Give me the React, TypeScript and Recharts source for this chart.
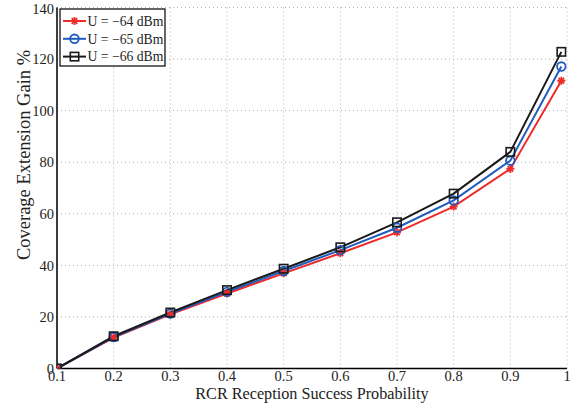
import React from 'react';
import { LineChart, Line, XAxis, YAxis, CartesianGrid } from 'recharts';

const xValues = [0.1, 0.2, 0.3, 0.4, 0.5, 0.6, 0.7, 0.8, 0.9, 0.99];
const u64 = [0, 12.0, 21.0, 29.1, 36.9, 44.7, 52.8, 62.8, 77.4, 111.6];
const u65 = [0, 12.2, 21.3, 29.7, 37.8, 45.9, 54.6, 65.2, 80.6, 117.1];
const u66 = [0, 12.5, 21.7, 30.4, 38.7, 47.0, 56.7, 67.8, 84.0, 122.8];
const xTicks = [0.1, 0.2, 0.3, 0.4, 0.5, 0.6, 0.7, 0.8, 0.9, 1];
const yTicks = [0, 20, 40, 60, 80, 100, 120, 140];
const seriesNames = ['U = \u221264 dBm', 'U = \u221265 dBm', 'U = \u221266 dBm'];

const data = xValues.map((x, i) => ({ x, a: u64[i], b: u65[i], c: u66[i] }));

const RED = '#ee2b2b';
const BLUE = '#1f5cbf';
const BLACK = '#1a1a1a';
const FONT = "'Liberation Serif', 'Times New Roman', Times, serif";

const Star = (props: any) => {
  const { cx, cy } = props;
  if (cx == null || cy == null) return null;
  const r = 4;
  return (
    <g stroke={RED} strokeWidth={1.8}>
      <line x1={cx - r} y1={cy} x2={cx + r} y2={cy} />
      <line x1={cx} y1={cy - r} x2={cx} y2={cy + r} />
      <line x1={cx - r * 0.7} y1={cy - r * 0.7} x2={cx + r * 0.7} y2={cy + r * 0.7} />
      <line x1={cx - r * 0.7} y1={cy + r * 0.7} x2={cx + r * 0.7} y2={cy - r * 0.7} />
    </g>
  );
};
const Circ = (props: any) => {
  const { cx, cy } = props;
  if (cx == null || cy == null) return null;
  return <circle cx={cx} cy={cy} r={4.3} fill="none" stroke={BLUE} strokeWidth={1.8} />;
};
const Sq = (props: any) => {
  const { cx, cy } = props;
  if (cx == null || cy == null) return null;
  return <rect x={cx - 4.2} y={cy - 4.2} width={8.4} height={8.4} fill="none" stroke={BLACK} strokeWidth={1.6} />;
};

const LegendBox = () => {
  const items = [
    { name: seriesNames[0], color: RED, M: Star },
    { name: seriesNames[1], color: BLUE, M: Circ },
    { name: seriesNames[2], color: BLACK, M: Sq },
  ];
  return (
    <svg width={107} height={59} style={{ position: 'absolute', left: 59, top: 8, display: 'block' }}>
      <rect x={1} y={1} width={105} height={57} fill="#fff" stroke="#000" strokeWidth={1.2} />
      {items.map((it, i) => {
        const y = 13 + i * 17.8;
        return (
          <g key={i}>
            <line x1={4} y1={y} x2={27} y2={y} stroke={it.color} strokeWidth={2} />
            <it.M cx={15.5} cy={y} />
            <text x={28.5} y={y + 4.8} style={{ fontFamily: FONT }} fontSize={13.7} fill="#222">{it.name}</text>
          </g>
        );
      })}
    </svg>
  );
};

const YLabel = () => (
  <text x={24} y={155} transform="rotate(-90 24 155)" textAnchor="middle" dominantBaseline="central" style={{ fontFamily: FONT }} fontSize={18.5} fill="#222">
    Coverage Extension Gain %
  </text>
);
const XLabel = () => (
  <text x={312} y={399} textAnchor="middle" style={{ fontFamily: FONT }} fontSize={16.2} fill="#222">
    RCR Reception Success Probability
  </text>
);

export default function App() {
  return (
    <div style={{ position: 'absolute', left: 0, top: 0, width: 575, height: 410, background: '#fff' }}>
      <LineChart width={575} height={410} data={data} margin={{ top: 7.5, right: 8, left: 0, bottom: 0 }}>
        <CartesianGrid stroke="#b0b0b0" strokeDasharray="1 3" />
        <XAxis
          dataKey="x"
          type="number"
          domain={[0.1, 1]}
          ticks={xTicks}
          allowDataOverflow
          tickFormatter={(v: number) => (v === 1 ? '1' : String(v))}
          tick={{ style: { fontFamily: FONT }, fontSize: 14.5, fill: '#222' }}
          tickLine={false}
          tickSize={0}
          axisLine={{ stroke: '#000', strokeWidth: 1.5 }}
          tickMargin={2}
          height={41.5}
          label={<XLabel />}
        />
        <YAxis
          domain={[0, 140]}
          ticks={yTicks}
          allowDataOverflow
          tick={{ style: { fontFamily: FONT }, fontSize: 14.5, fill: '#222' }}
          tickLine={false}
          tickSize={0}
          axisLine={{ stroke: '#000', strokeWidth: 1.5 }}
          tickMargin={3}
          width={57}
          label={<YLabel />}
        />
        <YAxis yAxisId="r" orientation="right" width={0} tick={false} tickLine={false} axisLine={{ stroke: '#000', strokeWidth: 1 }} />
        <XAxis xAxisId="t" orientation="top" height={0} tick={false} tickLine={false} axisLine={{ stroke: '#000', strokeWidth: 1 }} />
        <Line dataKey="a" name={seriesNames[0]} stroke={RED} strokeWidth={2} dot={<Star />} isAnimationActive={false} />
        <Line dataKey="b" name={seriesNames[1]} stroke={BLUE} strokeWidth={2} dot={<Circ />} isAnimationActive={false} />
        <Line dataKey="c" name={seriesNames[2]} stroke={BLACK} strokeWidth={2} dot={<Sq />} isAnimationActive={false} />
      </LineChart>
      <LegendBox />
    </div>
  );
}
